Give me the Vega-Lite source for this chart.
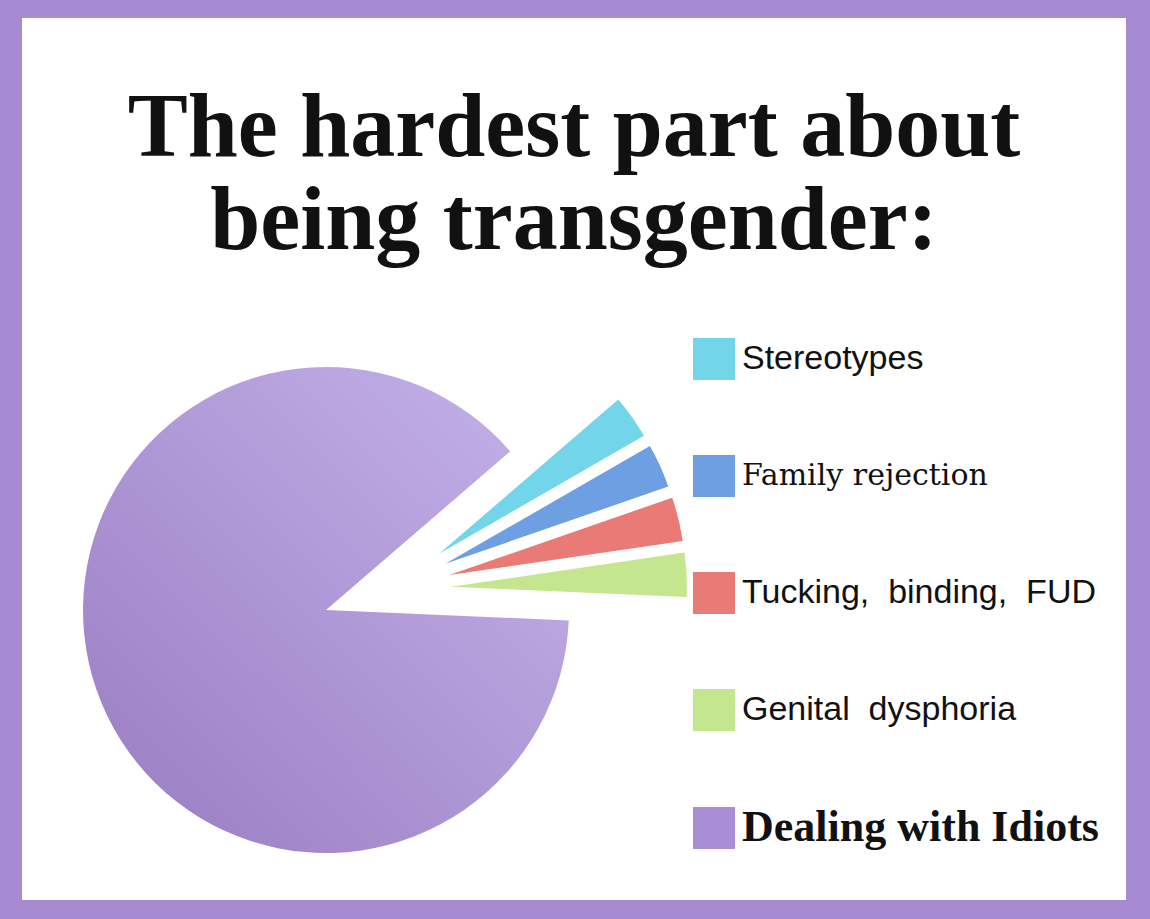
{
  "$schema": "https://vega.github.io/schema/vega-lite/v6.json",
  "width": 1104,
  "height": 882,
  "autosize": {"type": "none"},
  "padding": {"left": 22, "top": 18, "right": 24, "bottom": 19},
  "background": "#a68bd2",
  "view": {"fill": "white", "stroke": null},
  "config": {"view": {"stroke": null, "fill": "white"}},
  "title": {
    "text": ["The hardest part about", "being transgender:"],
    "font": "Liberation Serif",
    "fontSize": 90,
    "fontWeight": "bold",
    "color": "#111111",
    "anchor": "middle",
    "frame": "group",
    "lineHeight": 93,
    "offset": -250
  },
  "data": {
    "values": [
      {"category": "Stereotypes", "value": 3, "order": 1},
      {"category": "Family rejection", "value": 3, "order": 2},
      {"category": "Tucking, binding, FUD", "value": 3, "order": 3},
      {"category": "Genital dysphoria", "value": 3, "order": 4},
      {"category": "Dealing with Idiots", "value": 88, "order": 5}
    ]
  },
  "transform": [
    {"stack": "value", "groupby": [], "sort": [{"field": "order", "order": "ascending"}], "as": ["v0", "v1"]}
  ],
  "layer": [
    {
      "transform": [{"filter": "datum.category == 'Dealing with Idiots'"}],
      "mark": {
        "type": "arc",
        "radius": 243,
        "xOffset": -248,
        "yOffset": 151,
        "stroke": null,
        "fill": {
          "gradient": "linear",
          "x1": 0, "y1": 1, "x2": 1, "y2": 0,
          "stops": [
            {"offset": 0, "color": "#987cc2"},
            {"offset": 1, "color": "#c6b4ea"}
          ]
        }
      },
      "encoding": {
        "theta": {"field": "v0", "type": "quantitative", "stack": null, "scale": {"domain": [0, 100], "range": [0.86, 7.1432]}},
        "theta2": {"field": "v1"}
      }
    },
    {
      "transform": [{"filter": "datum.category != 'Dealing with Idiots'"}],
      "mark": {
        "type": "arc",
        "radius": 236,
        "xOffset": {"expr": "-186 + 63*sin(0.86 + PI*(datum.v0 + datum.v1)/100)"},
        "yOffset": {"expr": "131 - 63*cos(0.86 + PI*(datum.v0 + datum.v1)/100)"},
        "stroke": null
      },
      "encoding": {
        "theta": {"field": "v0", "type": "quantitative", "stack": null, "scale": {"domain": [0, 100], "range": [0.86, 7.1432]}},
        "theta2": {"field": "v1"},
        "color": {
          "field": "category",
          "type": "nominal",
          "scale": {
            "domain": ["Stereotypes", "Family rejection", "Tucking, binding, FUD", "Genital dysphoria", "Dealing with Idiots"],
            "range": ["#72d5ea", "#6e9fe3", "#e97a76", "#c4e68e", "#a98dd5"]
          },
          "legend": {
            "title": null,
            "orient": "none",
            "legendX": 671,
            "legendY": 320,
            "direction": "vertical",
            "symbolType": "square",
            "symbolSize": 1764,
            "symbolStrokeWidth": 0,
            "symbolOpacity": 1,
            "rowPadding": 75,
            "labelOffset": 7,
            "labelLimit": 0,
            "labelColor": "#111111",
            "labelBaseline": "middle",
            "labelExpr": "datum.value == 'Family rejection' || datum.value == 'Dealing with Idiots' ? datum.label : replace(datum.label, regexp(' ', 'g'), '\u00a0\u00a0')",
            "labelFont": {"expr": "datum.value == 'Family rejection' ? 'DejaVu Serif' : datum.value == 'Dealing with Idiots' ? 'Liberation Serif' : 'Liberation Sans'"},
            "labelFontSize": {"expr": "datum.value == 'Family rejection' ? 30 : datum.value == 'Dealing with Idiots' ? 44 : 34"},
            "labelFontWeight": {"expr": "datum.value == 'Dealing with Idiots' ? 'bold' : 'normal'"}
          }
        }
      }
    }
  ]
}
